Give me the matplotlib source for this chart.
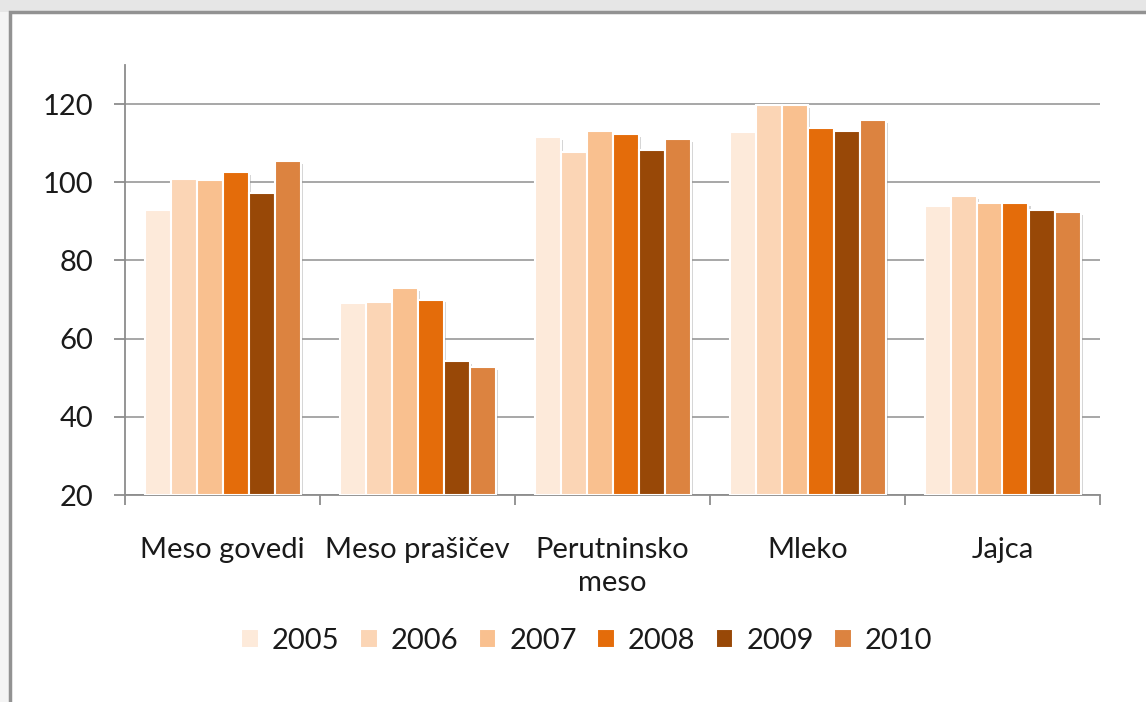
import numpy as np
import matplotlib
matplotlib.use("Agg")
import matplotlib.pyplot as plt
import matplotlib.patheffects as pe
from matplotlib.patches import Rectangle

# data
categories = ["Meso govedi", "Meso prašičev", "Perutninsko\nmeso", "Mleko", "Jajca"]
years = ["2005", "2006", "2007", "2008", "2009", "2010"]
v2005 = [92.8, 69.2, 111.5, 112.8, 94.0]
v2006 = [100.9, 69.3, 107.8, 119.7, 96.4]
v2007 = [100.5, 72.9, 113.2, 119.7, 94.7]
v2008 = [102.6, 70.0, 112.4, 114.0, 94.7]
v2009 = [97.2, 54.2, 108.3, 113.2, 92.9]
v2010 = [105.4, 52.7, 111.1, 116.0, 92.4]
series = [v2005, v2006, v2007, v2008, v2009, v2010]
colors = ["#FDEADA", "#FBD5B5", "#F9C08F", "#E46C0A", "#984807", "#DC8340"]

plt.rcParams['font.family'] = ['Lato', 'DejaVu Sans']
txt = "#1a1a1a"
fs = 21

W, H = 1146, 702
fig = plt.figure(figsize=(W / 100, H / 100), dpi=100)
fig.patch.set_facecolor("#f4f4f4")
# grey top strip and the framed white chart area
fig.patches.append(Rectangle((0, 1 - 12 / H), 1, 12 / H, transform=fig.transFigure,
                             facecolor="#e6e6e6", edgecolor="none", zorder=-5))
fig.patches.append(Rectangle((10 / W, -0.05), 1.1, 1 - 12 / H + 0.05, transform=fig.transFigure,
                             facecolor="white", edgecolor="#929292", linewidth=2.5, zorder=-4))

ax = fig.add_axes([125 / W, (H - 495) / H, 975 / W, 430 / H])
ax.set_zorder(1)
ax.set_facecolor("none")

x = np.arange(len(categories))
n = len(series)
bw = 0.8 / n
shadow = [pe.SimplePatchShadow(offset=(2, -2), shadow_rgbFace="#888888", alpha=0.35), pe.Normal()]
for i, (vals, c, yr) in enumerate(zip(series, colors, years)):
    pos = x - 0.4 + bw * (i + 0.5)
    bars = ax.bar(pos, np.array(vals) - 20, bottom=20, width=bw, color=c, edgecolor="white",
                  linewidth=1.5, label=yr, zorder=3)
    for b in bars:
        b.set_path_effects(shadow)

ax.set_xlim(-0.5, len(categories) - 0.5)
ax.set_ylim(20, 130)
ax.set_yticks(range(20, 121, 20))
ax.grid(axis="y", color="#a0a0a0", linewidth=1.3, zorder=0)
ax.set_axisbelow(True)

for s in ["top", "right"]:
    ax.spines[s].set_visible(False)
for s in ["left", "bottom"]:
    ax.spines[s].set_color("#8c8c8c")
    ax.spines[s].set_linewidth(1.3)

ax.set_xticks(x)
ax.set_xticklabels(categories, linespacing=1.35)
ax.set_xticks(np.arange(-0.5, len(categories), 1), minor=True)
ax.tick_params(axis="x", which="major", length=0, pad=30, labelsize=fs, labelcolor=txt)
ax.tick_params(axis="x", which="minor", length=7, width=1.3, color="#8c8c8c", direction="out")
ax.tick_params(axis="y", length=8, width=1.3, color="#8c8c8c", pad=15, labelsize=fs, labelcolor=txt)

leg = fig.legend(loc="center", bbox_to_anchor=(587 / W, 1 - 641 / H), ncol=6, frameon=False,
                 fontsize=fs, handlelength=0.6, handleheight=0.6, handletextpad=0.45,
                 columnspacing=0.7, labelcolor=txt)
for h in leg.legend_handles:
    h.set_path_effects([])
    h.set_edgecolor("white")

fig.savefig("out.png", dpi=100)
